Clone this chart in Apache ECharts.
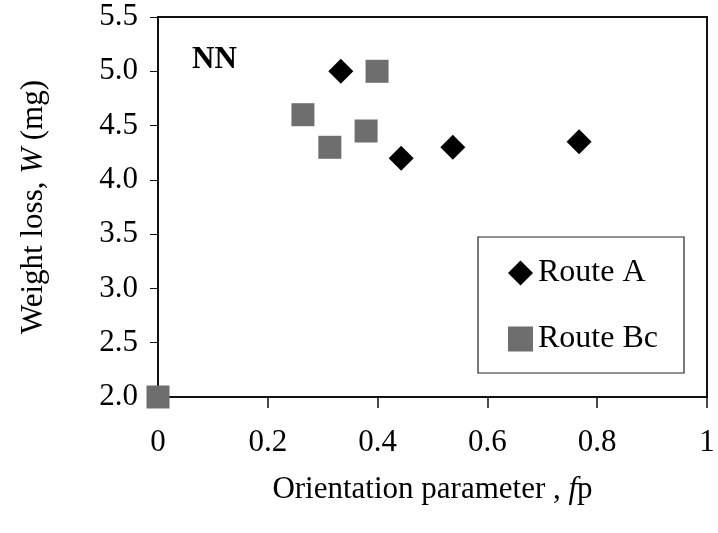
<!DOCTYPE html>
<html>
<head>
<meta charset="utf-8">
<script src="https://cdn.jsdelivr.net/npm/echarts@6/dist/echarts.min.js"></script>
<style>
  html, body { margin: 0; padding: 0; background: #fff; }
  #chart { width: 718px; height: 533px; }
</style>
</head>
<body>
<div id="chart"></div>
<script>
// Orientation parameter fp vs. weight loss W for the NN samples
const routeAFp = [0.333, 0.443, 0.537, 0.767];
const routeAW  = [5.0, 4.2, 4.3, 4.35];
const routeBcFp = [0.0, 0.264, 0.313, 0.379, 0.399];
const routeBcW  = [2.0, 4.6, 4.3, 4.45, 5.0];

const xTicks = [0, 0.2, 0.4, 0.6, 0.8, 1];
const yTicks = [2.0, 2.5, 3.0, 3.5, 4.0, 4.5, 5.0, 5.5];

const serif = '"Liberation Serif", "DejaVu Serif", serif';
const bcGray = '#6e6e6e';

const pairs = (xs, ys) => xs.map((x, i) => [x, ys[i]]);

const chart = echarts.init(document.getElementById('chart'), null, { renderer: 'canvas' });

chart.setOption({
  backgroundColor: '#ffffff',
  animation: false,
  textStyle: { fontFamily: serif, color: '#000' },
  grid: {
    left: 158, right: 11, top: 17, bottom: 136,
    show: true, borderColor: '#111', borderWidth: 2, backgroundColor: 'transparent'
  },
  xAxis: {
    type: 'value',
    min: xTicks[0], max: xTicks[xTicks.length - 1], interval: 0.2,
    name: 'Orientation parameter , {i|f}p',
    nameLocation: 'middle', nameGap: 77,
    nameTextStyle: {
      fontFamily: serif, fontSize: 31, color: '#000',
      rich: { i: { fontFamily: serif, fontSize: 31, fontStyle: 'italic', color: '#000' } }
    },
    axisLine: { show: true, lineStyle: { color: '#111', width: 2 } },
    axisTick: { show: true, inside: false, length: 11, lineStyle: { color: '#111', width: 1.5 } },
    axisLabel: {
      fontFamily: serif, fontSize: 31, color: '#000', margin: 30,
      formatter: v => String(Math.round(v * 10) / 10)
    },
    splitLine: { show: false }
  },
  yAxis: {
    type: 'value',
    min: yTicks[0], max: yTicks[yTicks.length - 1], interval: 0.5,
    name: 'Weight loss, {i|W} (mg)',
    nameLocation: 'middle', nameGap: 109, nameRotate: 90,
    nameTextStyle: {
      fontFamily: serif, fontSize: 31, color: '#000',
      rich: { i: { fontFamily: serif, fontSize: 31, fontStyle: 'italic', color: '#000' } }
    },
    axisLine: { show: true, lineStyle: { color: '#111', width: 2 } },
    axisTick: { show: true, inside: false, length: 8, lineStyle: { color: '#111', width: 1 } },
    axisLabel: {
      fontFamily: serif, fontSize: 31, color: '#000', margin: 20,
      formatter: v => v.toFixed(1)
    },
    splitLine: { show: false }
  },
  legend: {
    orient: 'vertical',
    left: 478, top: 237,
    padding: [20, 26, 18, 30],
    itemGap: 34,
    itemWidth: 25, itemHeight: 25,
    itemStyle: { borderWidth: 0, opacity: 1 },
    borderColor: '#222', borderWidth: 1.2,
    backgroundColor: '#fff',
    textStyle: { fontFamily: serif, fontSize: 32, color: '#000', padding: [0, 0, 0, 0] },
    data: [
      { name: 'Route A', icon: 'diamond', itemStyle: { color: '#000', opacity: 1 } },
      { name: 'Route Bc', icon: 'rect', itemStyle: { color: bcGray, opacity: 1 } }
    ]
  },
  graphic: [{
    type: 'text', left: 192, top: 44, z: 10,
    style: { text: 'NN', font: 'bold 31px ' + serif, fill: '#000' }
  }],
  series: [
    {
      name: 'Route A', type: 'scatter', clip: false, z: 5,
      symbol: 'diamond', symbolSize: 25,
      itemStyle: { color: '#000', opacity: 1 },
      data: pairs(routeAFp, routeAW)
    },
    {
      name: 'Route Bc', type: 'scatter', clip: false, z: 6,
      symbol: 'rect', symbolSize: 23,
      itemStyle: { color: bcGray, opacity: 1 },
      data: pairs(routeBcFp, routeBcW)
    }
  ]
});
</script>
</body>
</html>
